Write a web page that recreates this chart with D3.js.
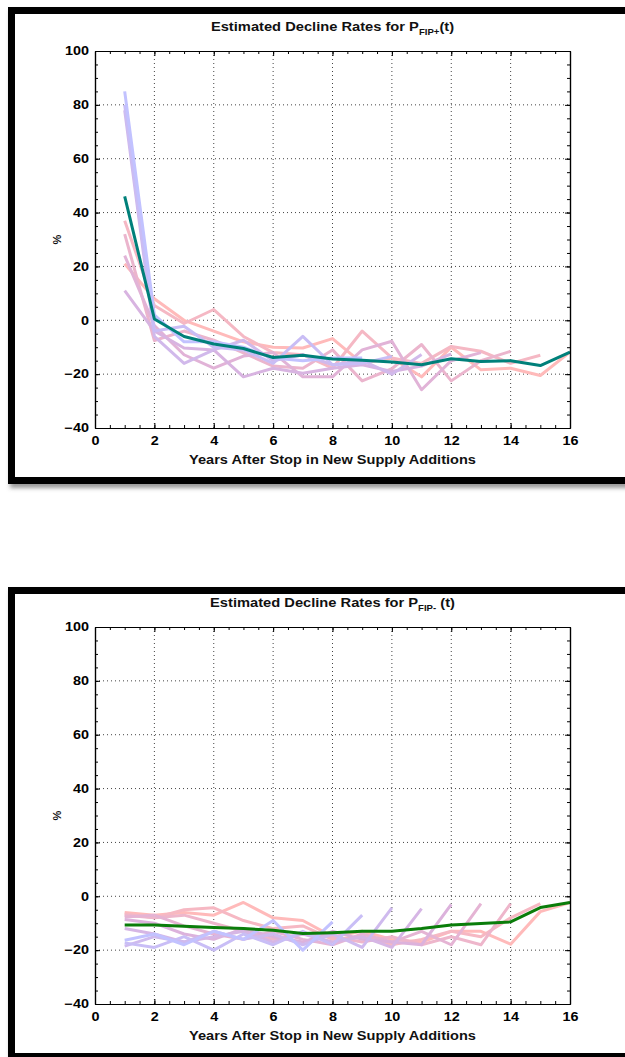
<!DOCTYPE html>
<html>
<head>
<meta charset="utf-8">
<script src="https://cdn.jsdelivr.net/npm/d3@7"></script>
<style>
    body { margin: 0; background: #fff; }
    text { font-family: "Liberation Sans", Arial, sans-serif; font-weight: bold; }
</style>
</head>
<body>
<div id="chart"></div>
<script>
// axis ticks
var xTicks = [0, 2, 4, 6, 8, 10, 12, 14, 16];
var yTicks = [-40, -20, 0, 20, 40, 60, 80, 100];

// P_FIP+ : one run per stop year, value at t = 1, 2, ...
var plusEnd9 = [85, 2, -8, -8, -10, -14, -15, -14, -14];
var plusEnd10 = [80, -4, -2.2, -10, -11, -16, -6, -16.5, -16, -13.4];
var plusEnd11 = [78, -6, -16, -11, -7.4, -15, -12.8, -16.5, -15, -20, -12.7];
var plusEnd12 = [11, -4, -10.3, -11, -21, -17.8, -19.7, -17.8, -16.5, -19, -17, -12.5];
var plusEnd13 = [24, -2, -12.8, -17.8, -13.3, -12, -21, -21, -11, -7.8, -25.8, -15, -12];
var plusEnd14 = [32, -7.5, -4, -7.4, -12.1, -17, -17.8, -11, -22.5, -18, -9, -22.5, -15, -11.5];
var plusEnd15 = [37, 5.5, -1.2, 4, -6, -12, -12.8, -17.8, -4, -14, -16, -9.7, -11.5, -16, -13];
var plusEnd16 = [21, 8, 0, -4, -8, -10, -10.3, -6.8, -16, -14, -21, -10, -18.4, -17.8, -20.5, -11.8];
var plusMean = [46, 0.5, -6, -8.8, -10.5, -13.8, -13, -14.4, -14.8, -15.5, -16.5, -14.3, -15.3, -15, -16.8, -11.8];

// P_FIP- runs
var minusEnd8 = [-16.3, -14, -18, -13, -16, -9, -20, -9.5];
var minusEnd9 = [-17.3, -19, -15, -20, -14, -18, -13, -18, -7];
var minusEnd10 = [-18.5, -15, -17, -13, -16, -14, -18, -14, -19, -4.3];
var minusEnd11 = [-12, -14, -17, -15, -13, -17, -14, -17, -15, -19, -4.6];
var minusEnd12 = [-8.6, -10, -14, -16, -12, -15, -17, -13, -16, -17, -18, -3];
var minusEnd13 = [-7.7, -7, -11, -14, -16, -13, -16, -18, -14, -17, -13, -18, -2.7];
var minusEnd14 = [-7, -8, -7, -10, -13, -16, -14, -15, -17, -15, -18, -15, -18, -2.7];
var minusEnd15 = [-6.5, -8, -5, -4.3, -9, -12, -11, -16, -15, -18, -16, -13, -15, -8, -2.7];
var minusEnd16 = [-6, -7, -6, -7, -2.3, -8, -9, -15, -13, -16, -17, -13, -13, -17.8, -5.7, -2.3];
var minusMean = [-10.7, -10.7, -11.1, -11.6, -12, -12.6, -13.8, -13.5, -13, -13, -12, -10.7, -10.1, -9.5, -4.2, -2.3];

var plusRuns = [plusEnd16, plusEnd15, plusEnd14, plusEnd13, plusEnd12, plusEnd11, plusEnd10, plusEnd9];
var minusRuns = [minusEnd16, minusEnd15, minusEnd14, minusEnd13, minusEnd12, minusEnd11, minusEnd10, minusEnd9, minusEnd8];

var w = 625;
var h = 1057;

var svg = d3.select("#chart")
    .append("svg")
    .attr("width", w)
    .attr("height", h);

var defs = svg.append("defs");
defs.append("filter")
    .attr("id", "shadow")
    .attr("x", "-5%").attr("y", "-5%")
    .attr("width", "110%").attr("height", "110%")
    .append("feDropShadow")
    .attr("dx", 2).attr("dy", 4)
    .attr("stdDeviation", 2)
    .attr("flood-color", "#555")
    .attr("flood-opacity", 0.6);

function drawPanel(cfg) {
    // frame
    svg.append("rect")
        .attr("x", 11.5)
        .attr("y", cfg.frameY)
        .attr("width", 700)
        .attr("height", cfg.frameH)
        .attr("fill", "#fff")
        .attr("stroke", "#000")
        .attr("stroke-width", 7)
        .attr("filter", "url(#shadow)");

    var x = d3.scaleLinear().domain([0, 16]).range([95, 570]);
    var y = d3.scaleLinear().domain([-40, 100]).range([cfg.top + 377, cfg.top]);
    var g = svg.append("g");

    // dotted grid
    g.selectAll(".gx")
        .data(xTicks.slice(1, -1))
        .enter()
        .append("line")
        .attr("x1", function (d) { return x(d); })
        .attr("x2", function (d) { return x(d); })
        .attr("y1", y(-40))
        .attr("y2", y(100))
        .attr("stroke", "#444")
        .attr("stroke-width", 1)
        .attr("stroke-dasharray", "1,3");

    g.selectAll(".gy")
        .data(yTicks.slice(1, -1))
        .enter()
        .append("line")
        .attr("x1", x(0))
        .attr("x2", x(16))
        .attr("y1", function (d) { return y(d); })
        .attr("y2", function (d) { return y(d); })
        .attr("stroke", "#444")
        .attr("stroke-width", 1)
        .attr("stroke-dasharray", "1,3");

    var lens = cfg.runs.map(function (r) { return r.length; });
    var colorScale = d3.scaleLinear()
        .domain([d3.min(lens), (d3.min(lens) + d3.max(lens)) / 2, d3.max(lens)])
        .range(["#c2c2ff", "#dcb2dc", "#ffbaba"]);

    var line = d3.line()
        .x(function (d, i) { return x(i + 1); })
        .y(function (d) { return y(d); });

    g.selectAll(".run")
        .data(cfg.runs)
        .enter()
        .append("path")
        .attr("d", line)
        .attr("fill", "none")
        .attr("stroke", function (d) { return colorScale(d.length); })
        .attr("stroke-width", 3)
        .attr("stroke-linejoin", "round");

    g.append("path")
        .attr("d", line(cfg.mean))
        .attr("fill", "none")
        .attr("stroke", cfg.meanColor)
        .attr("stroke-width", 3)
        .attr("stroke-linejoin", "round");

    // axes, ticks inward on all four sides
    var minorX = d3.range(0, 16.01, 0.5);
    var minorY = d3.range(-40, 100.01, 5);

    g.append("g")
        .attr("transform", "translate(0," + y(-40) + ")")
        .call(d3.axisBottom(x).tickValues(minorX).tickSizeInner(-3).tickSizeOuter(0).tickFormat(""));
    g.append("g")
        .attr("transform", "translate(0," + y(-40) + ")")
        .call(d3.axisBottom(x).tickValues(xTicks).tickSizeInner(-5).tickSizeOuter(0).tickPadding(8))
        .call(function (a) {
            a.selectAll("text").attr("font-size", "12px").attr("fill", "#000")
                .attr("transform", "scale(1.2,1)");
        });
    g.append("g")
        .attr("transform", "translate(0," + y(100) + ")")
        .call(d3.axisTop(x).tickValues(minorX).tickSizeInner(-3).tickSizeOuter(0).tickFormat(""));
    g.append("g")
        .attr("transform", "translate(0," + y(100) + ")")
        .call(d3.axisTop(x).tickValues(xTicks).tickSizeInner(-5).tickSizeOuter(0).tickFormat(""));

    g.append("g")
        .attr("transform", "translate(" + x(0) + ",0)")
        .call(d3.axisLeft(y).tickValues(minorY).tickSizeInner(-3).tickSizeOuter(0).tickFormat(""));
    g.append("g")
        .attr("transform", "translate(" + x(0) + ",0)")
        .call(d3.axisLeft(y).tickValues(yTicks).tickSizeInner(-5).tickSizeOuter(0).tickPadding(6))
        .call(function (a) {
            a.selectAll("text").attr("font-size", "12px").attr("fill", "#000")
                .attr("x", -5).attr("transform", "scale(1.2,1)");
        });
    g.append("g")
        .attr("transform", "translate(" + x(16) + ",0)")
        .call(d3.axisRight(y).tickValues(minorY).tickSizeInner(-3).tickSizeOuter(0).tickFormat(""));
    g.append("g")
        .attr("transform", "translate(" + x(16) + ",0)")
        .call(d3.axisRight(y).tickValues(yTicks).tickSizeInner(-5).tickSizeOuter(0).tickFormat(""));

    g.selectAll(".domain").attr("stroke", "#000").attr("stroke-width", 1.2);
    g.selectAll(".tick line").attr("stroke", "#000");

    // title
    var title = svg.append("text")
        .attr("transform", "translate(" + (x(0) + x(16)) / 2 + "," + (cfg.top - 20) + ") scale(1.13,1)")
        .attr("text-anchor", "middle")
        .attr("font-size", "13px")
        .attr("fill", "#111");
    title.append("tspan").text("Estimated Decline Rates for P");
    title.append("tspan").attr("font-size", "8.5px").attr("dy", 4).text(cfg.sub);
    title.append("tspan").attr("dy", -4).text(cfg.tail);

    svg.append("text")
        .attr("transform", "translate(" + (x(0) + x(16)) / 2 + "," + (y(-40) + 36) + ") scale(1.12,1)")
        .attr("text-anchor", "middle")
        .attr("font-size", "13px")
        .attr("fill", "#111")
        .text("Years After Stop in New Supply Additions");

    svg.append("text")
        .attr("transform", "translate(61," + y(30) + ") rotate(-90)")
        .attr("text-anchor", "middle")
        .attr("font-size", "11px")
        .attr("fill", "#111")
        .text("%");
}

drawPanel({ frameY: 10.5, frameH: 470, top: 51, sub: "FIP+", tail: "(t)", runs: plusRuns, mean: plusMean, meanColor: "#00807a" });
drawPanel({ frameY: 590.5, frameH: 466, top: 627, sub: "FIP-", tail: " (t)", runs: minusRuns, mean: minusMean, meanColor: "#0a7d0a" });
</script>
</body>
</html>
